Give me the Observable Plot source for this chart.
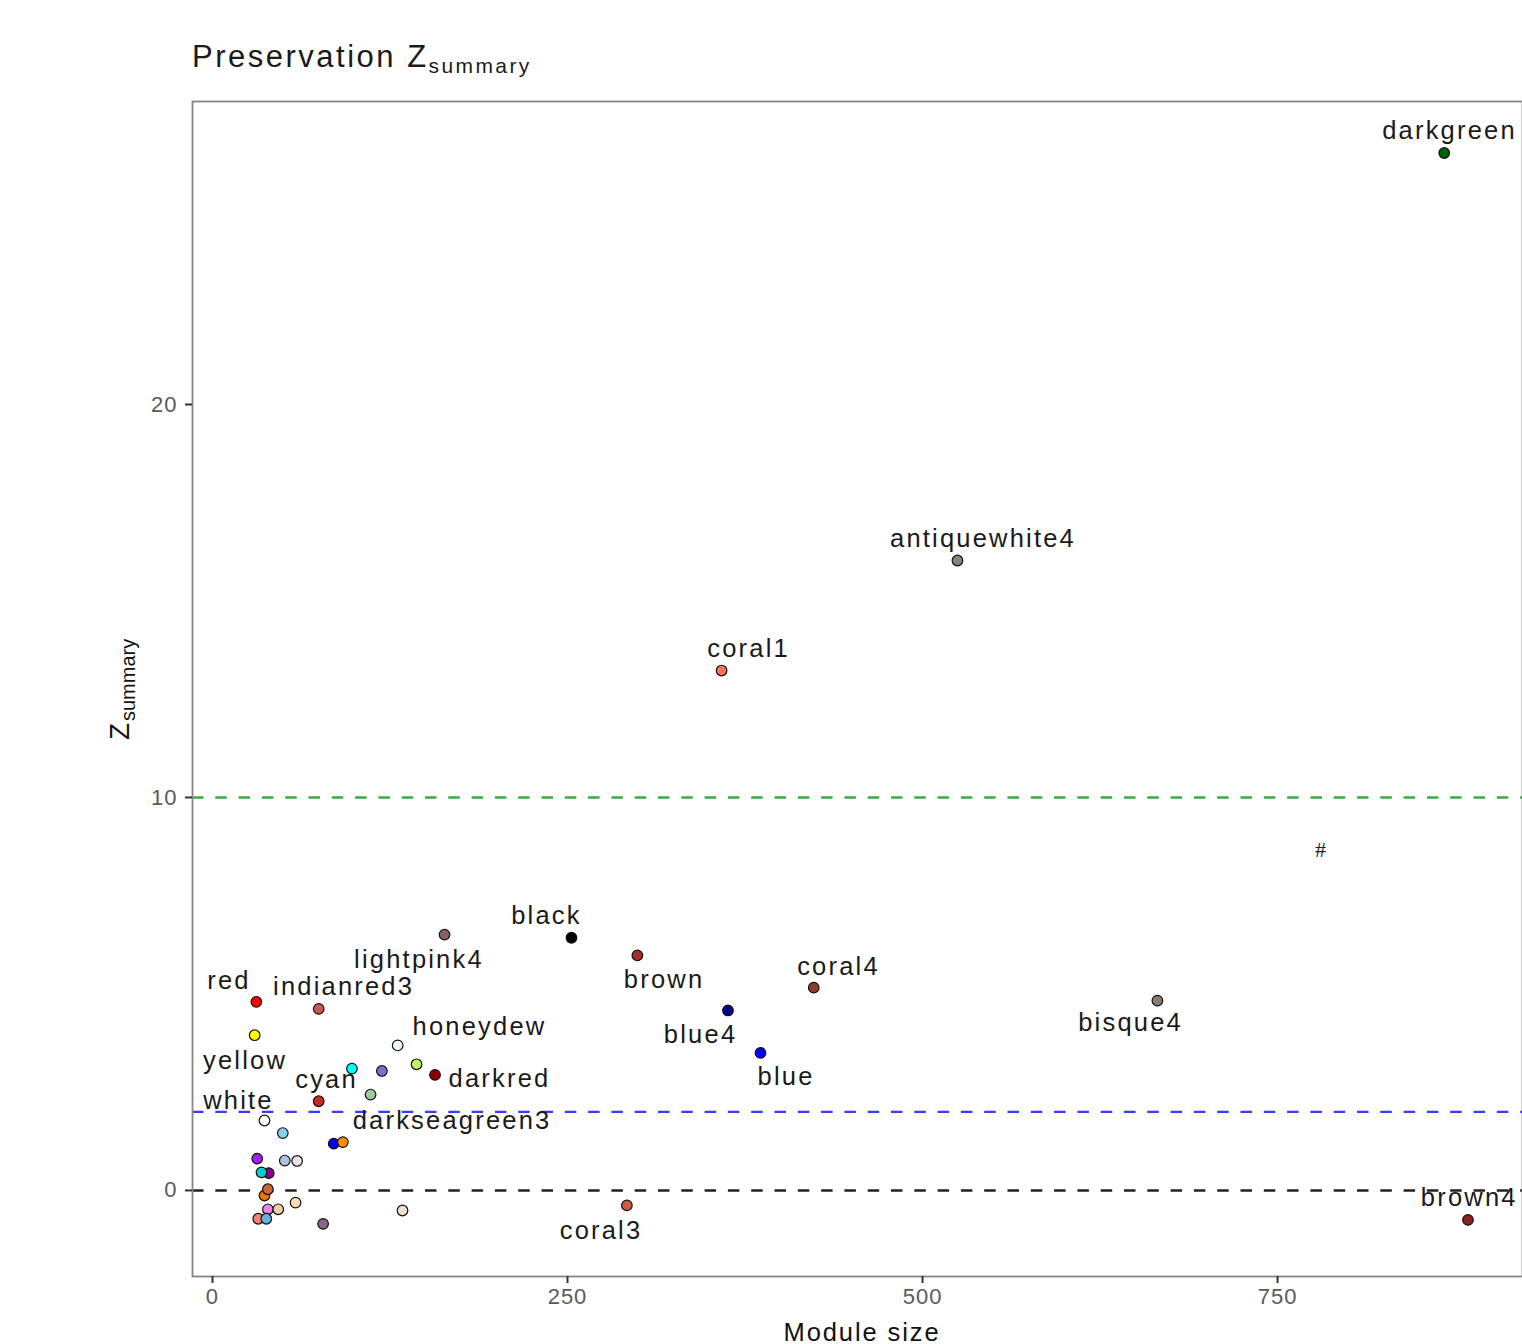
<!DOCTYPE html>
<html><head><meta charset="utf-8">
<script src="https://cdn.jsdelivr.net/npm/d3@7"></script>
<script src="https://cdn.jsdelivr.net/npm/@observablehq/plot@0.6"></script>
<style>
body{margin:0;background:#fff;width:1522px;height:1344px;overflow:hidden;font-family:"Liberation Sans",Arial,sans-serif}
#title{position:absolute;left:192px;top:41px;font-size:31px;line-height:31px;letter-spacing:2.5px;color:#1a1a1a;white-space:nowrap}
#title .sub{font-size:21px;letter-spacing:2.4px;vertical-align:-6px}
#chart{position:absolute;left:0;top:90px}
g[aria-description="module-labels"] text{letter-spacing:2.2px}
g[aria-label="x-axis tick label"] text, g[aria-label="y-axis tick label"] text{letter-spacing:1px}
g[aria-description="xlab"] text{letter-spacing:1.9px}
</style></head><body>
<div id="title">Preservation Z<span class="sub">summary</span></div>
<div id="chart"></div>
<script>
// Modules (points)
const moduleNames = ["darkgreen","antiquewhite4","coral1","black","lightpink4","brown","coral4","red","indianred3","bisque4","blue4","yellow","honeydew","blue","cyan","mediumpurple3","darkolivegreen2","darkred","darkseagreen3","firebrick3","white","skyblue","blue2","darkorange","purple","lightsteelblue","lavenderblush2","darkmagenta","darkturquoise","darkorange2","sienna3","violet","navajowhite2","wheat","salmon","skyblue3","plum4","antiquewhite2","coral3","brown4"];
const moduleSize = [867.4,524.6,358.5,252.8,163.4,299.2,423.4,30.9,74.8,665.4,363.0,29.7,130.4,385.9,98.2,119.3,143.7,156.7,111.3,74.8,36.6,49.5,85.4,91.8,31.5,50.9,59.6,39.6,34.5,36.6,39.0,39.0,46.3,58.5,32.2,37.9,77.9,133.8,291.8,884.1];
const zSummary = [26.40,16.03,13.23,6.43,6.51,5.98,5.16,4.80,4.62,4.83,4.58,3.95,3.69,3.50,3.10,3.04,3.21,2.94,2.44,2.27,1.78,1.46,1.19,1.23,0.81,0.76,0.75,0.44,0.46,-0.13,0.03,-0.48,-0.48,-0.31,-0.72,-0.72,-0.85,-0.51,-0.38,-0.75];
const moduleColor = ["#006400","#8B8378","#FF7256","#000000","#8B5F65","#A52A2A","#8B3E2F","#FF0000","#CD5555","#8B7D6B","#00008B","#FFFF00","#F0FFF0","#0000FF","#00FFFF","#8968CD","#BCEE68","#8B0000","#9BCD9B","#CD2626","#FFFFFF","#87CEEB","#0000EE","#FF8C00","#A020F0","#B0C4DE","#EEE0E5","#8B008B","#00CED1","#EE7600","#CD6839","#EE82EE","#EECFA1","#F5DEB3","#FA8072","#62B3DE","#8B668B","#EEDFCC","#CD5B45","#8B2323"];

// Labels (as placed in the picture)
const labelNames = ["darkgreen","antiquewhite4","coral1","black","lightpink4","brown","coral4","red","indianred3","bisque4","blue4","yellow","honeydew","blue","cyan","darkred","white","darkseagreen3","coral3","brown4"];
const labelSize = [871.1,542.6,377.5,235.2,145.4,318.0,440.8,11.6,92.3,646.5,343.7,22.9,188.0,403.9,80.3,202.1,18.3,168.7,273.6,885.0];
const labelZ = [26.97,16.59,13.79,7.00,5.88,5.37,5.70,5.34,5.17,4.26,3.97,3.31,4.16,2.89,2.82,2.85,2.29,1.77,-1.04,-0.18];

// Threshold lines
const thresholdZ = [10, 2, 0];
const thresholdColor = ["#3aaa45", "#3b3bf2", "#222222"];

// Ticks
const xTicks = [0, 250, 500, 750];
const yTicks = [0, 10, 20];

// Stray mark in the picture
const strayText = ["#"];
const straySize = [780.3];
const strayZ = [8.66];

const pts = moduleNames.map((n, i) => ({name: n, size: moduleSize[i], z: zSummary[i], color: moduleColor[i]}));
const labs = labelNames.map((n, i) => ({name: n, size: labelSize[i], z: labelZ[i]}));
const rules = thresholdZ.map((z, i) => ({z, color: thresholdColor[i]}));
const stray = strayText.map((t, i) => ({t, size: straySize[i], z: strayZ[i]}));

const chart = Plot.plot({
  width: 1522, height: 1254,
  marginLeft: 192, marginRight: 0, marginTop: 11, marginBottom: 68,
  x: {domain: [-14.08, 922.5], axis: null},
  y: {domain: [-2.19, 27.71], axis: null},
  style: {background: "white", fontFamily: "'Liberation Sans', Arial, sans-serif", color: "#1a1a1a", overflow: "hidden"},
  marks: [
    Plot.ruleY(rules, {y: "z", stroke: "color", strokeWidth: 2.4, strokeDasharray: "11.5,11.8"}),
    Plot.frame({stroke: "#858585", strokeWidth: 1.8}),
    Plot.axisX(xTicks, {anchor: "bottom", tickSize: 7, tickPadding: 5, fontSize: 22, stroke: "#333", strokeWidth: 2, fill: "#5a5a5a", label: null}),
    Plot.axisY(yTicks, {anchor: "left", tickSize: 7, tickPadding: 8, fontSize: 22, stroke: "#333", strokeWidth: 2, fill: "#5a5a5a", label: null}),
    Plot.dot(pts, {x: "size", y: "z", fill: "color", stroke: "#111", strokeWidth: 1.2, r: 5.3}),
    Plot.text(labs, {x: "size", y: "z", text: "name", fontSize: 25.5, fill: "#1a1a1a", ariaDescription: "module-labels"}),
    Plot.text(stray, {x: "size", y: "z", text: "t", fontSize: 22, fontFamily: "'Liberation Serif', serif", fill: "#222"}),
    Plot.text(["Module size"], {text: d => d, frameAnchor: "bottom", lineAnchor: "bottom", dy: 64, dx: 4.5, fontSize: 25.5, fill: "#111", ariaDescription: "xlab"}),
    Plot.text(["Z"], {text: d => d, frameAnchor: "left", rotate: -90, textAnchor: "start", lineAnchor: "bottom", dx: -64, dy: 51, fontSize: 28, fill: "#111"}),
    Plot.text(["summary"], {text: d => d, frameAnchor: "left", rotate: -90, textAnchor: "start", lineAnchor: "bottom", dx: -58, dy: 32, fontSize: 20, fill: "#111"})
  ]
});
document.getElementById("chart").appendChild(chart);
</script></body></html>
